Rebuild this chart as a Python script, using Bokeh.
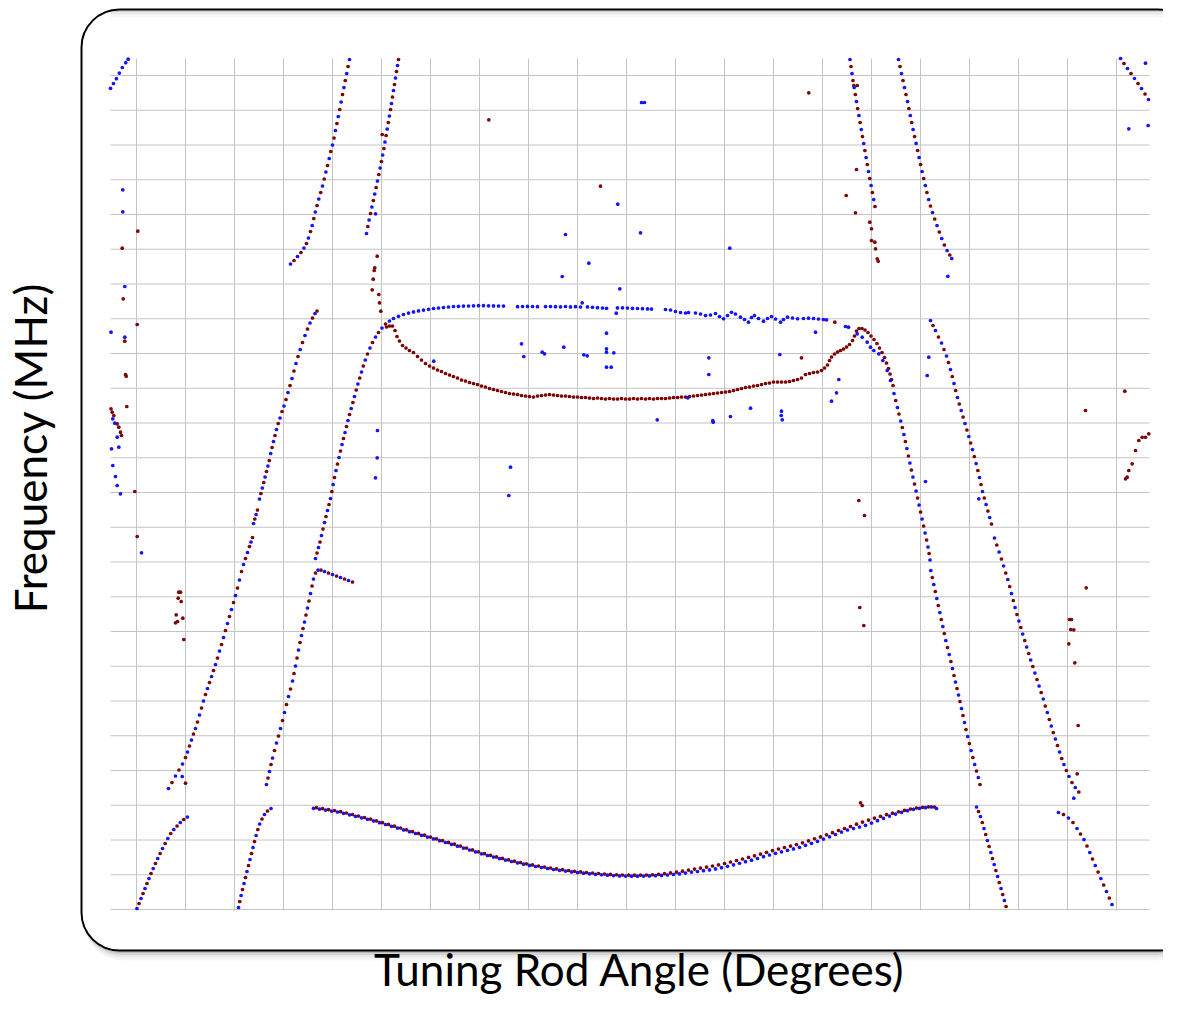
import math
from bokeh.plotting import figure
from bokeh.models import Range1d, BoxAnnotation, Label
from bokeh.embed import file_html
from bokeh.resources import INLINE

# ---------------- data (x = tuning rod angle in degrees, y = frequency in MHz) -------------
X_TICKS = list(range(0, 201, 10))
Y_TICKS = list(range(0, 241, 10))
X_LIMITS = (-5.306, 206.735)      # plotted angle span
Y_LIMITS = (-0.288, 244.89)       # plotted frequency span

TOP_LEFT_BLUE = [(-5.3,236.3),(-4.7,237.7),(-4.1,239.1),(-3.5,240.7),(-2.9,242.3),(-2.2,243.7),(-1.7,244.7)]

BRANCH_B = [(31.43,185.76),(32.14,186.76),(32.86,187.91),(33.57,189.07),(34.18,190.36),(34.69,191.66),(35.10,193.24),
            (35.51,195.11),(35.86,196.83),(36.18,198.85),(36.49,200.72),(36.84,202.59),(37.20,204.46),(37.59,206.33),
            (37.96,208.20),(38.31,210.22),(38.65,212.23),(38.98,214.10),(39.33,216.12),(39.65,218.13),(40.0,220.0),
            (40.31,222.01),(40.61,224.17),(40.90,226.19),(41.18,228.20),(41.47,230.22),(41.76,232.37),(42.04,234.53),
            (42.33,236.55),(42.61,238.56),(42.90,240.58),(43.18,242.59),(43.47,244.60)]

BRANCH_E = [(46.94,194.53),(47.20,196.55),(47.47,198.42),(47.76,200.29),(48.04,202.16),(48.33,204.03),(48.61,205.90),
            (48.90,207.77),(49.18,209.64),(49.45,211.51),(49.71,213.38),(49.98,215.25),(50.24,217.12),(50.49,218.99),
            (50.71,220.86),(50.94,222.73),(51.16,224.60),(51.39,226.47),(51.61,228.35),(51.84,230.22),(52.04,231.94),
            (52.24,233.81),(52.45,235.68),(52.65,237.41),(52.86,239.28),(53.06,241.15),(53.27,242.88),(53.47,244.60)]

BRANCH_A1 = [(6.53,34.82),(7.24,36.55),(7.96,38.42),(8.67,40.14),(9.39,41.87),(10.0,43.74),(10.41,45.32),(10.82,47.05),
             (11.22,48.78),(11.63,50.50),(12.04,52.09),(12.45,53.96),(12.86,55.97),(13.27,57.99),(13.67,60.0),(14.08,61.87),
             (14.49,63.60),(14.90,65.32),(15.31,67.05),(15.71,68.78),(16.12,70.50),(16.53,72.37),(16.94,74.39),(17.35,76.26),
             (17.76,78.27),(18.16,80.29),(18.57,82.30),(18.98,84.32),(19.39,86.33),(19.80,88.35),(20.20,90.36),(20.61,92.52),
             (21.02,94.82),(21.43,97.27),(21.84,99.28),(22.24,101.01),(22.65,102.73),(23.06,104.46),(23.37,105.76),(23.67,107.05)]
BRANCH_A2 = [(23.88,111.08),(24.14,112.37),(24.41,113.67),(24.69,114.96)]
BRANCH_A3 = [(25.10,118.13),(25.39,119.71),(25.67,121.30),(25.96,122.88),(26.24,124.46),(26.53,126.04),(26.82,127.63),
             (27.10,129.21),(27.39,131.22),(27.67,132.95),(27.96,134.68),(28.27,136.40),(28.57,138.13),(28.92,139.86),
             (29.29,141.44),(29.69,143.31),(30.10,144.89),(30.51,146.76),(30.92,148.78),(31.33,150.79),(31.73,152.81),
             (32.14,154.96),(32.55,157.12),(32.96,159.14),(33.41,161.15),(33.88,163.17),(34.39,165.18),(34.90,167.05),
             (35.41,168.78),(35.92,170.22),(36.43,171.51),(36.84,172.23)]

BRANCH_C = [(26.53,35.97),(26.84,37.84),(27.14,39.71),(27.45,41.73),(27.76,43.60),(28.16,45.76),(28.57,47.91),(28.98,49.93),
            (29.39,52.09),(29.80,54.39),(30.20,56.69),(30.61,58.99),(31.02,61.30),(31.43,63.45),(31.84,65.76),(32.14,67.91),
            (32.45,70.07),(32.76,72.37),(33.06,74.68),(33.37,76.83),(33.67,78.85),(33.98,80.86),(34.29,82.73),(34.59,84.75),
            (34.90,86.76),(35.20,88.78),(35.51,90.94),(35.82,93.09),(36.12,95.11),(36.53,96.84),(37.04,97.69),(37.65,97.69),
            (38.37,97.27),(39.18,96.84),(40.0,96.40),(40.82,95.97),(41.63,95.54),(42.45,95.11),(43.27,94.68),(44.08,94.24)]

BRANCH_D = [(36.53,101.01),(36.84,102.59),(37.14,104.17),(37.45,105.76),(37.76,107.63),(38.06,109.50),(38.37,111.37),
            (38.67,113.09),(38.98,114.82),(39.29,116.55),(39.59,118.27),(39.86,120.29),(40.12,122.30),(40.41,124.32),
            (40.71,126.33),(41.02,128.20),(41.33,130.07),(41.63,131.94),(41.94,133.81),(42.24,135.54),(42.55,137.27),
            (42.86,138.99),(43.16,140.72),(43.47,142.45),(43.82,144.17),(44.16,145.90),(44.49,147.63),(44.84,149.50),
            (45.18,151.22),(45.55,152.95),(45.92,154.68),(46.29,156.40),(46.69,158.13),(47.14,159.86),(47.65,161.58),
            (48.16,163.17),(48.78,164.75),(49.39,166.04),(50.10,167.34),(50.82,168.49)]

UPPER_ARC_BLUE = [(51.63,169.35),(52.45,170.07),(53.47,170.71),(54.49,171.22),(55.51,171.63),(56.53,171.97),(57.55,172.26),
    (58.57,172.49),(59.59,172.72),(60.61,172.95),(61.63,173.09),(62.65,173.24),(63.67,173.38),(64.69,173.53),(65.71,173.58),
    (66.73,173.64),(67.76,173.67),(68.78,173.73),(69.80,173.76),(70.82,173.76),(71.84,173.73),(72.86,173.70),(73.88,173.67),
    (74.90,173.64),(77.76,173.47),(78.78,173.53),(79.80,173.55),(80.82,173.53),(81.84,173.47),(83.47,173.50),(84.49,173.53),
    (85.51,173.47),(86.53,173.44),(87.55,173.53),(88.57,173.41),(89.59,173.47),(90.61,173.38),(92.04,173.41),(93.06,173.30),
    (94.08,173.18),(95.10,173.09),(95.92,173.01),(98.16,173.12),(99.18,173.15),(100.20,173.09),(101.22,173.01),(102.24,172.95),
    (103.27,172.89),(104.29,172.84),(105.10,172.78),(107.96,172.66),(108.98,172.52),(110.0,172.09),(111.02,171.80),
    (112.04,171.66),(112.65,171.80),(114.08,171.66),(115.10,171.37),(116.12,170.94),(117.14,171.08),(118.16,171.51),
    (118.98,170.65),(119.80,169.99),(120.61,170.94),(121.43,171.88),(122.24,171.37),(123.27,170.45),(124.08,169.78),
    (124.90,169.01),(125.51,170.36),(126.12,170.94),(126.94,170.07),(127.96,169.30),(128.78,170.07),(129.59,170.65),
    (130.41,169.93),(131.43,169.01),(132.04,169.78),(132.86,170.45),(133.88,170.22),(134.90,169.99),(136.12,170.07),
    (137.14,170.16),(138.16,170.07),(139.18,169.93),(140.20,169.78),(140.82,169.70),(144.69,167.77),(145.31,167.57)]

LOWER_ARC_RED = [(51.02,167.63),(51.63,167.91),(52.24,167.91),(52.76,166.62),(53.16,164.89),(53.67,163.60),(54.29,162.30),
    (55.0,161.58),(55.71,160.86),(56.53,160.29),(57.35,159.14),(58.16,158.13),(58.98,157.12),(59.80,156.40),(60.61,155.83),
    (61.43,155.25),(62.24,154.82),(63.06,154.24),(63.88,153.81),(64.69,153.38),(65.51,152.95),(66.33,152.37),(67.14,152.09),
    (67.96,151.65),(68.78,151.37),(69.59,151.08),(70.41,150.65),(71.22,150.36),(72.04,149.93),(72.86,149.64),(73.67,149.35),
    (74.49,149.06),(75.31,148.78),(76.12,148.49),(76.94,148.35),(77.76,148.20),(78.57,147.91),(79.39,147.77),(80.20,147.63),
    (81.02,147.48),(81.84,147.77),(82.65,147.91),(83.47,148.06),(84.29,148.20),(85.10,148.06),(85.92,147.91),(86.73,147.77),
    (87.55,147.77),(88.37,147.63),(89.18,147.48),(90.0,147.48),(90.82,147.34),(91.63,147.34),(92.45,147.19),(93.27,147.05),
    (94.08,147.19),(94.90,147.05),(95.71,146.91),(96.53,147.05),(97.35,146.91),(98.16,146.91),(98.98,147.05),(99.80,146.91),
    (100.61,146.91),(101.43,147.05),(102.24,146.91),(103.06,147.05),(103.88,146.91),(104.69,147.05),(105.51,146.91),
    (106.33,147.05),(107.14,147.05),(107.96,147.05),(108.78,147.19),(109.59,147.34),(110.41,147.34),(111.22,147.48),
    (112.04,147.48),(112.86,147.63),(113.67,147.77),(114.49,147.91),(115.31,148.06),(116.12,148.20),(116.94,148.35),
    (117.76,148.49),(118.57,148.64),(119.39,148.78),(120.20,148.92),(121.02,149.06),(121.84,149.35),(122.65,149.64),
    (123.47,149.93),(124.29,150.22),(125.10,150.36),(125.92,150.65),(126.73,150.79),(127.55,151.08),(128.37,151.37),
    (129.18,151.51),(130.0,151.80),(130.82,151.80),(131.63,151.80),(132.45,151.80),(133.27,151.94),(134.08,152.23),
    (134.90,152.52),(135.71,152.95),(136.53,153.96),(137.35,154.24),(138.16,154.53),(138.98,154.68),(139.80,155.11),
    (140.41,155.83),(141.02,156.69),(141.43,157.99),(141.84,158.99),(142.45,159.86),(143.06,160.43),(143.67,160.86),
    (144.29,161.30),(144.90,161.87),(145.51,162.59),(146.12,163.74),(146.53,165.04),(146.94,166.48),(147.45,167.19),
    (148.06,167.19),(148.67,166.76),(149.29,166.04),(149.90,165.04),(150.51,164.03),(151.12,162.88),(151.63,161.58),
    (152.14,160.29),(152.65,158.85),(153.06,157.27),(153.47,155.68),(153.78,154.10),(154.08,152.52),(154.39,150.79)]

F_TOP_BLUE = [(147.08,165.67),(148.10,164.69),(149.12,163.25),(149.80,161.81),(150.47,160.86),(151.49,159.91),
              (152.31,157.99),(153.20,155.11),(153.88,152.23)]

BRANCH_F1 = [(154.59,148.49),(154.94,146.48),(155.29,144.46),(155.61,142.59),(155.96,140.58),(156.29,138.71),(156.61,136.69),
             (156.92,134.68),(157.22,132.66),(157.53,130.50),(157.84,128.49),(158.14,126.48),(158.45,124.46),(158.78,122.45),
             (159.10,120.43),(159.41,118.42),(159.71,116.40),(160.02,114.39),(160.33,112.37),(160.63,110.36),(160.94,108.35),
             (161.24,106.33),(161.53,104.32),(161.76,102.45),(161.94,100.58)]
BRANCH_F2 = [(162.10,97.55),(162.41,95.54),(162.71,93.53),(163.02,91.51),(163.33,89.50),(163.63,87.48),(163.94,85.47),
             (164.24,83.45),(164.55,81.44),(164.86,79.42),(165.16,77.41),(165.51,75.40),(165.86,73.38),(166.20,71.37),
             (166.53,69.35),(166.84,67.34),(167.14,65.47),(167.45,63.60),(167.76,61.73),(168.06,59.86),(168.37,57.84),
             (168.67,55.83),(168.98,53.81),(169.29,51.80),(169.63,49.78),(169.98,47.77),(170.33,45.76),(170.69,43.74),
             (171.06,41.73),(171.43,39.86),(171.80,37.99),(172.14,35.97)]

BRANCH_G = [(171.43,29.50),(171.84,28.20),(172.24,26.76),(172.61,25.04),(172.96,23.31),(173.31,21.58),(173.65,19.86),
            (174.0,18.13),(174.35,16.40),(174.69,14.68),(175.04,12.95),(175.39,11.22),(175.73,9.50),(176.08,7.77),
            (176.43,6.04),(176.78,4.32),(177.12,2.59),(177.47,0.86)]

BRANCH_H1 = [(162.04,169.50),(162.55,168.06),(163.06,166.62),(163.67,164.75),(164.29,163.02),(164.80,161.15),(165.31,159.28),
             (165.71,157.41),(166.12,155.40),(166.49,153.38),(166.84,151.37),(167.18,149.35),(167.55,147.34),(167.92,145.47),
             (168.31,143.60),(168.69,141.73),(169.08,139.86),(169.47,137.99),(169.86,136.12),(170.24,134.25),(170.61,132.37),
             (170.98,130.36),(171.35,128.35),(171.71,126.33),(172.04,124.32),(172.35,122.30),(172.65,120.29),(173.02,118.42),
             (173.39,116.55),(173.76,114.68),(174.12,112.81),(174.49,110.94)]
BRANCH_H2 = [(175.10,106.91),(175.57,104.89),(176.04,102.88),(176.51,100.86),(176.96,98.85),(177.39,96.84),(177.82,94.96),
             (178.20,92.95),(178.57,90.94),(178.94,88.92),(179.31,86.91),(179.69,84.89),(180.08,83.02),(180.47,81.15),
             (180.86,79.28),(181.27,77.41),(181.67,75.54),(182.08,73.67),(182.49,71.80),(182.92,69.93),(183.35,68.06),
             (183.78,66.19),(184.20,64.32),(184.63,62.45),(185.06,60.58),(185.47,58.56),(185.88,56.69),(186.29,54.68),
             (186.69,52.81),(187.10,50.94),(187.53,49.07),(187.96,47.19),(188.39,45.32),(188.82,43.45),(189.27,41.73),
             (189.76,40.0),(190.31,38.27),(190.92,36.55),(191.59,35.11),(192.31,33.81)]

BRANCH_I = [(188.16,27.91),(189.18,27.34),(190.20,26.33),(191.12,25.04),(191.94,23.31),(192.65,21.73),(193.37,20.14),
            (193.98,18.27),(194.55,16.40),(195.10,14.53),(195.67,12.66),(196.24,10.79),(196.82,8.92),(197.39,7.05),
            (197.96,5.18),(198.53,3.31),(199.08,1.44)]

BRANCH_J = [(145.61,244.60),(145.82,242.59),(146.02,240.58),(146.22,238.56),(146.47,236.55),(146.71,234.53),(146.94,232.52),
            (147.18,230.51),(147.43,228.49),(147.67,226.48),(147.92,224.46),(148.16,222.45),(148.41,220.44),(148.65,218.42),
            (148.90,216.41),(149.14,214.39),(149.39,212.38),(149.65,210.36),(149.92,208.35),(150.18,206.33),(150.45,204.32),
            (150.71,202.30)]

BRANCH_K = [(155.51,244.60),(155.82,242.59),(156.12,240.58),(156.43,238.56),(156.73,236.55),(157.04,234.53),(157.35,232.52),
            (157.63,230.51),(157.92,228.49),(158.20,226.48),(158.49,224.46),(158.80,222.45),(159.10,220.44),(159.41,218.42),
            (159.71,216.41),(160.02,214.39),(160.33,212.38),(160.65,210.36),(160.98,208.35),(161.31,206.33),(161.67,204.32),
            (162.04,202.45),(162.45,200.58),(162.90,198.71),(163.37,196.83),(163.84,194.96),(164.33,193.09),(164.86,191.22),
            (165.43,189.64),(165.98,188.35),(166.37,187.34)]

BRANCH_L = [(200.82,244.89),(201.53,243.45),(202.24,242.01),(202.96,240.58),(203.67,239.14),(204.39,237.70),(205.10,236.26),
            (205.82,234.67),(206.53,233.09)]

BRANCH_M = [(0.10,0.29),(0.51,1.73),(0.92,3.17),(1.33,4.60),(1.73,6.04),(2.14,7.48),(2.55,8.92),(2.96,10.36),(3.41,11.80),
            (3.86,13.24),(4.33,14.68),(4.82,16.12),(5.31,17.55),(5.84,18.99),(6.39,20.43),(6.98,21.87),(7.61,23.02),
            (8.27,24.03),(8.94,25.04),(9.63,25.90),(10.37,26.62)]

BRANCH_N = [(20.82,0.58),(21.08,2.30),(21.35,4.03),(21.63,5.76),(21.94,7.48),(22.24,9.21),(22.55,10.94),(22.86,12.66),
            (23.16,14.39),(23.47,16.12),(23.78,17.84),(24.08,19.57),(24.41,21.30),(24.76,23.02),(25.14,24.60),(25.61,26.04),
            (26.12,27.34),(26.73,28.35),(27.45,29.06)]

BOTTOM_ARC_BLUE = [(36.12,29.12),(37.35,28.89),(38.57,28.60),(39.80,28.32),(41.02,28.06),(42.24,27.68),(43.47,27.25),
    (44.69,26.82),(45.92,26.39),(47.14,25.96),(48.37,25.50),(49.59,24.98),(50.82,24.46),(52.04,23.94),(53.27,23.42),
    (54.49,22.91),(55.71,22.39),(56.94,21.87),(58.16,21.35),(59.39,20.83),(60.61,20.32),(61.84,19.80),(63.06,19.28),
    (64.29,18.76),(65.51,18.22),(66.73,17.67),(67.96,17.12),(69.18,16.58),(70.41,16.03),(71.63,15.54),(72.86,15.08),
    (74.08,14.65),(75.31,14.22),(76.53,13.81),(77.76,13.41),(78.98,13.04),(80.20,12.69),(81.43,12.37),(82.65,12.09),
    (83.88,11.80),(85.10,11.51),(86.33,11.28),(87.55,11.05),(88.78,10.82),(90.0,10.62),(91.22,10.45),(92.45,10.27),
    (93.67,10.13),(94.90,9.99),(96.12,9.87),(97.35,9.76),(98.57,9.67),(99.80,9.61),(101.02,9.58),(102.24,9.58),
    (103.47,9.61),(104.69,9.67),(105.92,9.73),(107.14,9.81),(108.37,9.93),(109.59,10.07),(110.82,10.25),(112.04,10.48),
    (113.27,10.76),(114.49,10.94),(115.71,11.17),(116.94,11.40),(118.16,11.68),(119.39,12.03),(120.61,12.43),
    (121.84,12.86),(123.06,13.30),(124.29,13.76),(125.51,14.19),(126.73,14.68),(127.96,15.19),(129.18,15.68),
    (130.41,16.17),(131.63,16.60),(132.86,17.04),(134.08,17.44),(135.31,17.90),(136.53,18.47),(137.76,19.05),
    (138.98,19.63),(140.20,20.26),(141.43,20.92),(142.65,21.58),(143.88,22.27),(145.10,22.88),(146.33,23.31),
    (147.55,23.74),(148.78,24.23),(150.0,24.86),(151.22,25.55),(152.45,26.24),(153.67,26.88),(154.90,27.45),
    (156.12,27.97),(157.35,28.43),(158.57,28.83),(159.80,29.12),(161.02,29.30),(162.24,29.53),(163.27,29.07)]

BOTTOM_ARC_RED = [(36.73,29.30),(37.96,29.04),(39.18,28.75),(40.41,28.49),(41.63,28.17),(42.86,27.77),(44.08,27.34),
    (45.31,26.91),(46.53,26.47),(47.76,26.01),(48.98,25.53),(50.20,25.01),(51.43,24.49),(52.65,23.97),(53.88,23.45),
    (55.10,22.94),(56.33,22.42),(57.55,21.90),(58.78,21.38),(60.0,20.86),(61.22,20.35),(62.45,19.83),(63.67,19.31),
    (64.90,18.79),(66.12,18.25),(67.35,17.70),(68.57,17.15),(69.80,16.60),(71.02,16.06),(72.24,15.60),(73.47,15.14),
    (74.69,14.71),(75.92,14.30),(77.14,13.90),(78.37,13.53),(79.59,13.15),(80.82,12.83),(82.04,12.52),(83.27,12.23),
    (84.49,11.94),(85.71,11.68),(86.94,11.45),(88.16,11.22),(89.39,10.99),(90.61,10.82),(91.84,10.65),(93.06,10.50),
    (94.29,10.36),(95.51,10.22),(96.73,10.10),(97.96,10.01),(99.18,9.93),(100.41,9.90),(101.63,9.87),(102.86,9.90),
    (104.08,9.93),(105.31,9.99),(106.53,10.13),(107.76,10.30),(108.98,10.53),(110.20,10.73),(111.43,11.02),
    (112.65,11.34),(113.88,11.63),(115.10,11.91),(116.33,12.20),(117.55,12.52),(118.78,12.86),(120.0,13.24),
    (121.22,13.67),(122.45,14.10),(123.67,14.53),(124.90,14.99),(126.12,15.45),(127.35,15.94),(128.57,16.46),
    (129.80,16.95),(131.02,17.41),(132.24,17.84),(133.47,18.25),(134.69,18.68),(135.92,19.19),(137.14,19.77),
    (138.37,20.35),(139.59,20.89),(140.82,21.50),(142.04,22.10),(143.27,22.73),(144.49,23.31),(145.71,23.88),
    (146.94,24.55),(148.16,25.15),(149.39,25.73),(150.61,26.30),(151.84,26.82),(153.06,27.31),(154.29,27.71),
    (155.51,28.12),(156.73,28.55),(157.96,28.92),(159.18,29.21),(160.41,29.41),(161.63,29.55),(162.86,29.50)]

OUTLIERS_BLUE = [(-2.80,207.11),(-2.80,200.78),(-2.39,179.28),(-5.2,166.13),(-2.39,164.69),(-4.84,141.21),(-4.43,139.94),
    (-3.94,135.91),(-5.10,132.58),(-3.61,133.04),(-4.84,127.77),(-4.29,124.60),(-3.94,122.02),(-3.27,119.63),(1.02,102.65),
    (9.33,38.27),(49.18,137.84),(49.12,129.99),(48.78,124.23),(48.78,200.20),(60.67,157.78),(103.06,232.23),(103.67,232.23),
    (98.22,202.96),(87.55,194.25),(102.86,194.73),(121.08,190.30),(92.31,185.99),(86.88,182.16),(98.63,178.62),(90.96,174.59),
    (97.90,171.60),(78.57,162.79),(79.04,159.14),(82.80,160.37),(83.27,159.91),(87.20,161.81),(91.29,159.63),(91.98,159.34),
    (95.92,165.84),(95.92,161.35),(95.92,160.37),(97.41,160.20),(95.92,156.06),(96.88,156.06),(116.80,158.76),(116.80,153.96),
    (131.29,159.71),(106.27,140.92),(112.51,147.25),(117.61,140.72),(117.69,140.23),(121.22,141.87),(125.31,144.26),
    (131.63,143.40),(131.57,142.16),(131.78,140.92),(76.33,127.28),(75.98,119.14),(138.57,166.13),(143.33,152.52),
    (142.86,148.69),(141.84,146.27),(161.69,158.94),(161.37,153.67),(165.57,182.24),(161.02,123.17),(171.90,118.19),
    (205.92,243.54),(202.51,224.66),(206.47,225.61),(191.29,32.03)]

OUTLIERS_RED = [(0.27,195.20),(-2.92,190.30),(-2.71,175.74),(0.14,168.35),(-2.39,163.54),(-2.24,153.96),(-2.10,153.47),
    (-1.98,144.75),(-5.2,144.09),(-4.96,143.11),(-4.63,142.16),(-3.94,139.77),(-3.61,138.79),(-3.27,137.35),(-3.06,136.40),
    (-0.35,120.29),(0.14,107.34),(8.63,91.31),(8.98,91.31),(8.51,89.58),(9.12,88.63),(8.10,84.81),(9.45,83.83),(7.96,82.50),
    (8.37,82.88),(9.65,77.70),(10.0,36.35),(49.12,188.0),(48.63,184.66),(48.51,183.89),(48.31,181.38),(48.10,178.33),
    (49.45,176.98),(49.59,174.59),(49.86,172.17),(50.14,223.02),(71.90,227.25),(94.69,208.14),(135.71,158.76),(142.51,169.01),
    (149.65,197.78),(150.0,195.89),(150.0,192.52),(150.67,192.03),(150.82,190.13),(151.16,187.25),(151.37,186.56),
    (146.39,237.12),(147.08,237.12),(146.94,212.95),(144.84,205.47),(146.73,200.49),(137.20,235.02),(147.41,117.70),
    (148.57,113.38),(147.61,86.91),(148.43,81.73),(147.76,30.71),(148.10,29.93),(201.69,149.15),(193.67,143.60),
    (201.84,123.94),(202.51,126.33),(203.20,128.26),(203.88,132.09),(204.55,134.96),(205.24,135.91),(205.92,135.91),
    (206.59,136.89),(202.18,124.40),(193.82,92.58),(190.41,83.45),(190.82,83.45),(190.67,80.58),(191.29,80.49),
    (190.27,76.46),(191.49,70.99),(192.18,52.95),(191.98,39.05)]

# branches where both sweeps overlap: readings alternate blue / red along the trace
SHARED = [BRANCH_B, BRANCH_E, BRANCH_A1, BRANCH_A2, BRANCH_A3, BRANCH_C, BRANCH_D, BRANCH_F1, BRANCH_F2,
          BRANCH_G, BRANCH_H1, BRANCH_H2, BRANCH_I, BRANCH_J, BRANCH_K, BRANCH_L, BRANCH_M, BRANCH_N]
BLUE_ONLY = [TOP_LEFT_BLUE, UPPER_ARC_BLUE, F_TOP_BLUE, BOTTOM_ARC_BLUE, OUTLIERS_BLUE]
RED_ONLY = [LOWER_ARC_RED, BOTTOM_ARC_RED, OUTLIERS_RED]

BLUE = "#1414ff"
RED = "#7d0505"
GRID = "#c4c4c4"

bx, by, rx, ry = [], [], [], []
for br in SHARED:
    for i, (x, y) in enumerate(br):
        if i % 2 == 0:
            bx.append(x); by.append(y)
        else:
            rx.append(x); ry.append(y)
for br in BLUE_ONLY:
    for x, y in br:
        bx.append(x); by.append(y)
for br in RED_ONLY:
    for x, y in br:
        rx.append(x); ry.append(y)

# ---------------- figure: the frame spans the whole canvas; plot area drawn inside -------------
W, H = 1163, 997
PX_X = 4.9          # pixels per degree
PX_Y = 3.475        # pixels per MHz
X0_PX, Y0_PX = 136, 909   # pixel position of angle 0 / frequency 0 on the canvas
x_range = Range1d(-X0_PX / PX_X, (W - X0_PX) / PX_X)
y_range = Range1d(-(H - Y0_PX) / PX_Y, Y0_PX / PX_Y)

p = figure(width=W, height=H, x_range=x_range, y_range=y_range,
           output_backend="svg", toolbar_location=None, title=None,
           min_border_left=0, min_border_right=0, min_border_top=0, min_border_bottom=0)
p.xaxis.visible = False
p.yaxis.visible = False
p.grid.visible = False
p.outline_line_color = None
p.background_fill_color = "white"
p.border_fill_color = "white"

def px2x(px):
    return (px - X0_PX) / PX_X
def px2y(py):
    return (Y0_PX - py) / PX_Y

# rounded slide frame with a soft drop shadow
for d, a in [(10, 0.035), (7, 0.055), (4.5, 0.085), (2.5, 0.12)]:
    p.add_layout(BoxAnnotation(left=px2x(81 + d * 0.3), right=px2x(1195), top=px2y(9 + d * 0.5), bottom=px2y(950 + d),
                               fill_color="black", fill_alpha=a, line_color=None, line_alpha=0,
                               border_radius=38, level="image"))
p.add_layout(BoxAnnotation(left=px2x(81), right=px2x(1195), top=px2y(9), bottom=px2y(950),
                           fill_color="white", fill_alpha=1, line_color="black", line_alpha=1, line_width=2,
                           border_radius=38, level="image"))
# faint inner shading under the top edge
for k, a in [(1.5, 0.10), (4, 0.06), (7, 0.03)]:
    p.add_layout(BoxAnnotation(left=px2x(110), right=px2x(1170), top=px2y(10), bottom=px2y(10 + k),
                               fill_color="black", fill_alpha=a, line_color=None, line_alpha=0,
                               border_radius=0, level="image"))

# grid lines restricted to the plotted span
p.segment(x0=X_TICKS, x1=X_TICKS, y0=[Y_LIMITS[0]] * len(X_TICKS), y1=[Y_LIMITS[1]] * len(X_TICKS),
          line_color=GRID, line_width=1)
p.segment(x0=[X_LIMITS[0]] * len(Y_TICKS), x1=[X_LIMITS[1]] * len(Y_TICKS), y0=Y_TICKS, y1=Y_TICKS,
          line_color=GRID, line_width=1)

p.scatter(rx, ry, size=3.7, fill_color=RED, line_color=None)
p.scatter(bx, by, size=3.7, fill_color=BLUE, line_color=None)

p.add_layout(Label(x=px2x(639), y=px2y(968), text="Tuning Rod Angle (Degrees)",
                   text_font="Lato", text_font_size="44px", text_align="center", text_baseline="middle",
                   text_color="black"))
p.add_layout(Label(x=px2x(29.5), y=px2y(447.5), text="Frequency (MHz)", angle=math.pi / 2,
                   text_font="Lato", text_font_size="44px", text_align="center", text_baseline="middle",
                   text_color="black"))

open("out.html", "w").write(file_html(p, INLINE))
